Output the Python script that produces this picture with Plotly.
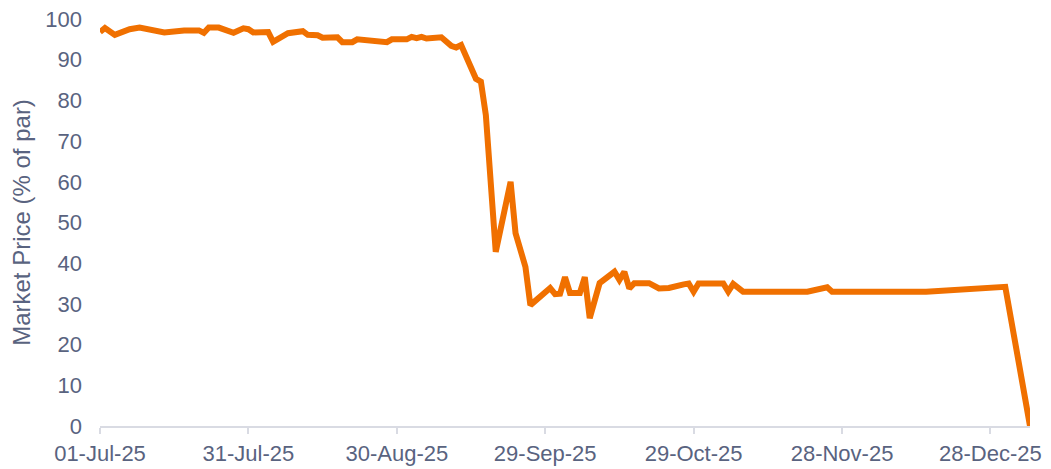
import plotly.graph_objects as go

# market price series, % of par
dates = [
    "2025-07-01", "2025-07-02", "2025-07-04", "2025-07-07", "2025-07-09",
    "2025-07-11", "2025-07-14", "2025-07-18", "2025-07-21", "2025-07-22",
    "2025-07-23", "2025-07-25", "2025-07-28", "2025-07-30", "2025-07-31",
    "2025-08-01", "2025-08-04", "2025-08-05", "2025-08-07", "2025-08-08",
    "2025-08-11", "2025-08-12", "2025-08-14", "2025-08-15", "2025-08-18",
    "2025-08-19", "2025-08-21", "2025-08-22", "2025-08-28", "2025-08-29",
    "2025-09-01", "2025-09-02", "2025-09-03", "2025-09-04", "2025-09-05",
    "2025-09-08", "2025-09-10", "2025-09-11", "2025-09-12", "2025-09-15",
    "2025-09-16", "2025-09-17", "2025-09-19", "2025-09-22", "2025-09-23",
    "2025-09-25", "2025-09-26", "2025-09-30", "2025-10-01", "2025-10-02",
    "2025-10-03", "2025-10-04", "2025-10-06", "2025-10-07", "2025-10-08",
    "2025-10-10", "2025-10-13", "2025-10-14", "2025-10-15", "2025-10-16",
    "2025-10-17", "2025-10-20", "2025-10-22", "2025-10-24", "2025-10-27",
    "2025-10-28", "2025-10-29", "2025-10-30", "2025-11-04", "2025-11-05",
    "2025-11-06", "2025-11-08", "2025-11-21", "2025-11-25", "2025-11-26",
    "2025-12-15", "2025-12-31", "2026-01-05",
]
prices = [
    96.8, 97.8, 96.1, 97.5, 97.9,
    97.3, 96.7, 97.2, 97.2, 96.6,
    97.9, 97.9, 96.6, 97.7, 97.5,
    96.7, 96.8, 94.4, 96.0, 96.5,
    97.0, 96.1, 96.0, 95.4, 95.5,
    94.3, 94.3, 95.0, 94.3, 95.0,
    95.0, 95.6, 95.3, 95.6, 95.2,
    95.5, 93.4, 93.0, 93.6, 85.3,
    84.6, 76.4, 42.8, 60.0, 47.4,
    39.1, 29.7, 33.9, 32.4, 32.5,
    36.6, 32.7, 32.7, 36.6, 26.5,
    35.1, 37.9, 35.9, 37.9, 33.8,
    35.1, 35.1, 33.8, 33.9, 34.8,
    35.0, 33.0, 35.0, 35.0, 33.0,
    34.9, 33.0, 33.0, 34.1, 33.0,
    33.0, 34.2, 0.0,
]

tick_dates = ["2025-07-01", "2025-07-31", "2025-08-30", "2025-09-29",
              "2025-10-29", "2025-11-28", "2025-12-28"]
tick_labels = ["01-Jul-25", "31-Jul-25", "30-Aug-25", "29-Sep-25",
               "29-Oct-25", "28-Nov-25", "28-Dec-25"]

TEXT = "#596380"
ORANGE = "#F07000"
AXIS = "#D9DBE3"

fig = go.Figure()
fig.add_trace(go.Scatter(
    x=dates,
    y=prices,
    mode="lines",
    line=dict(color=ORANGE, width=6),
    hoverinfo="x+y",
))

# page body has an 8px margin, so the figure is a bit smaller than the window
fig.update_layout(
    width=1043,
    height=461,
    margin=dict(l=92, r=21, t=11, b=43),
    paper_bgcolor="white",
    plot_bgcolor="white",
    showlegend=False,
    font=dict(family="Liberation Sans, Arial, sans-serif", color=TEXT, size=22),
    xaxis=dict(
        range=[dates[0], dates[-1]],
        tickvals=tick_dates,
        ticktext=tick_labels,
        automargin=False,
        showgrid=False,
        zeroline=False,
        showline=True,
        linecolor=AXIS,
        linewidth=2,
        ticks="outside",
        ticklen=6,
        tickwidth=2,
        tickcolor=AXIS,
        ticklabelstandoff=1,
        ticklabeloverflow="allow",
        tickfont=dict(size=22, color=TEXT),
    ),
    yaxis=dict(
        range=[0, 100],
        dtick=10,
        automargin=False,
        showgrid=False,
        zeroline=False,
        showline=False,
        ticklabelstandoff=17,
        ticklabeloverflow="allow",
        tickfont=dict(size=22, color=TEXT),
        title=dict(text="Market Price (% of par)", font=dict(size=24, color=TEXT), standoff=20),
    ),
)

fig.write_html("out.html")
